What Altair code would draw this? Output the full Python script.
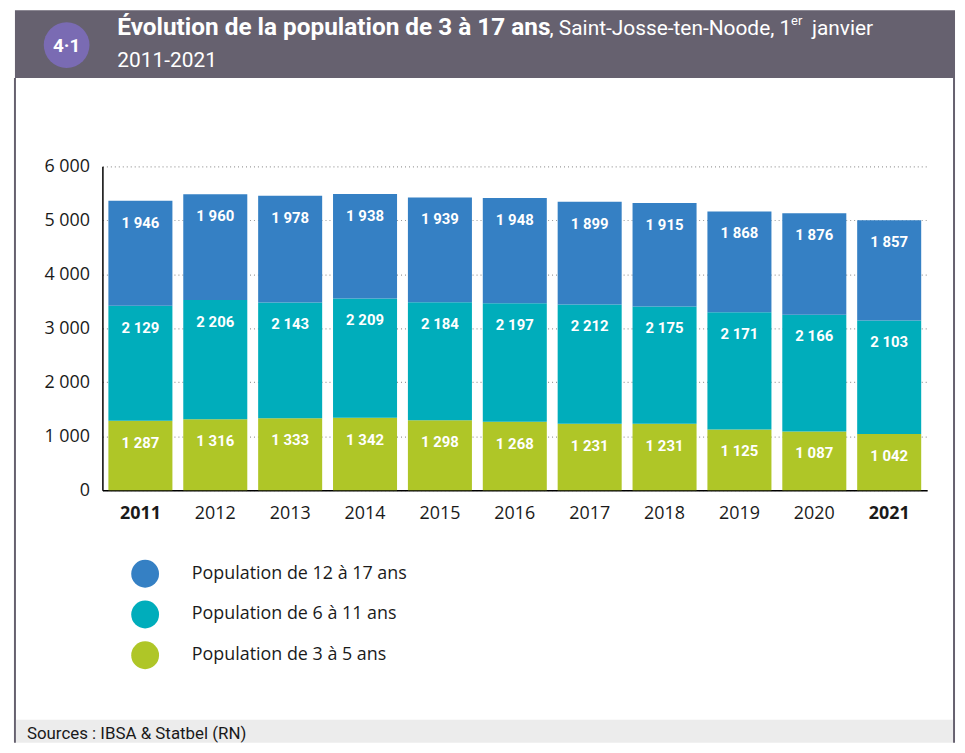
import altair as alt
import pandas as pd

# ---- data -------------------------------------------------------------
years = ["2011", "2012", "2013", "2014", "2015", "2016", "2017", "2018", "2019", "2020", "2021"]
pop_3_5 = [1287, 1316, 1333, 1342, 1298, 1268, 1231, 1231, 1125, 1087, 1042]
pop_6_11 = [2129, 2206, 2143, 2209, 2184, 2197, 2212, 2175, 2171, 2166, 2103]
pop_12_17 = [1946, 1960, 1978, 1938, 1939, 1948, 1899, 1915, 1868, 1876, 1857]
series = ["Population de 12 à 17 ans", "Population de 6 à 11 ans", "Population de 3 à 5 ans"]
colors = ["#3580c4", "#00adbb", "#afc627"]
y_ticks = [0, 1000, 2000, 3000, 4000, 5000, 6000]

rows = []
for i, yr in enumerate(years):
    for rank, (name, vals) in enumerate([(series[2], pop_3_5), (series[1], pop_6_11), (series[0], pop_12_17)]):
        rows.append({"year": yr, "series": name, "value": vals[i], "rank": rank})
df = pd.DataFrame(rows)

FONT_COND = "Roboto, 'Liberation Sans', sans-serif"
FONT_REG = "'Open Sans', 'Noto Sans', sans-serif"
HEADER = "#66616f"

# ---- main chart -------------------------------------------------------
base = alt.Chart(df).transform_stack(
    stack="value", groupby=["year"], as_=["y0", "y1"], sort=[alt.SortField("rank", order="ascending")]
)

x_enc = alt.X(
    "year:N", sort=years,
    scale=alt.Scale(paddingInner=0.145, paddingOuter=0.08),
    axis=alt.Axis(
        title=None, labelAngle=0, ticks=False, tickSize=0, grid=False,
        domainColor="#000000", domainWidth=1.5,
        labelFont=FONT_REG, labelFontSize=18, labelColor="#1a1a1a", labelPadding=14,
        labelFontWeight={"condition": {"test": "datum.value == '2011' || datum.value == '2021'", "value": "bold"}, "value": "normal"},
    ),
)
y_axis = alt.Axis(
    title=None, values=y_ticks, ticks=False, tickSize=0,
    labelExpr="replace(format(datum.value, ','), ',', ' ')",
    domainColor="#000000", domainWidth=1.5,
    grid=True, gridColor="#9a9a9a", gridDash=[1, 3], gridWidth=1.2,
    labelFont=FONT_REG, labelFontSize=18, labelColor="#1a1a1a", labelPadding=13,
)

bars = base.mark_bar().encode(
    x=x_enc,
    y=alt.Y("y0:Q", scale=alt.Scale(domain=[0, 6000], nice=False), axis=y_axis),
    y2="y1:Q",
    color=alt.Color(
        "series:N",
        scale=alt.Scale(domain=series, range=colors),
        legend=alt.Legend(
            title=None, orient="none", legendX=29, legendY=396, direction="vertical",
            symbolType="circle", symbolSize=784, symbolStrokeWidth=0, symbolOpacity=1,
            labelFont=FONT_REG, labelFontSize=18, labelColor="#1a1a1a", labelLimit=500,
            labelOffset=33, rowPadding=13, padding=0,
        ),
    ),
    order=alt.Order("rank:Q"),
)

labels = base.transform_calculate(
    lbl="replace(format(datum.value, ','), ',', ' ')"
).mark_text(
    dy=22, color="white", font=FONT_COND, fontWeight="bold", fontSize=15, baseline="middle", align="center"
).encode(
    x=alt.X("year:N", sort=years),
    y=alt.Y("y1:Q"),
    text="lbl:N",
)

# ---- decorations ------------------------------------------------------
dummy = pd.DataFrame({"d": [0]})

def rect(x1, x2, y1, y2, color):
    return alt.Chart(dummy).mark_rect(color=color).encode(
        x=alt.value(x1), x2=alt.value(x2), y=alt.value(y1), y2=alt.value(y2))

def txt(s, x, y, size, weight="normal", color="white", font=FONT_COND, align="left"):
    return alt.Chart(dummy).mark_text(
        text=s, align=align, baseline="alphabetic", font=font, fontSize=size,
        fontWeight=weight, color=color,
    ).encode(x=alt.value(x), y=alt.value(y))

header = rect(-88, 858, -157, -89, HEADER)
left_border = rect(-89, -87, -89, 580, HEADER)
right_border = rect(856, 858, -89, 580, HEADER)
footer = rect(-87, 856, 557, 580, "#ececec")
badge = alt.Chart(dummy).mark_point(filled=True, shape="circle", size=2116, color="#7a6bb3", opacity=1).encode(
    x=alt.value(-36), y=alt.value(-122))
badge_txt = txt("4·1", -36, -115, 19, "bold", align="center")
t1 = txt("Évolution de la population de 3 à 17 ans", 15, -132, 24.5, "bold")
t2 = txt(", Saint-Josse-ten-Noode, 1", 450, -132, 21)
t3 = txt("er", 693, -142, 13)
t4 = txt("janvier", 714, -132, 21)
t5 = txt("2011-2021", 15, -100, 21)
src = txt("Sources : IBSA & Statbel (RN)", -76, 576, 17, color="#1a1a1a")

chart = alt.layer(
    header, left_border, right_border, footer, badge, badge_txt, t1, t2, t3, t4, t5, src,
    bars, labels,
).properties(
    width=830, height=326,
    autosize=alt.AutoSizeParams(type="none"),
    padding={"left": 95, "top": 157, "right": 30, "bottom": 254},
).configure_view(stroke=None)

chart.save("out.html", embed_options={"renderer": "svg", "actions": False})
